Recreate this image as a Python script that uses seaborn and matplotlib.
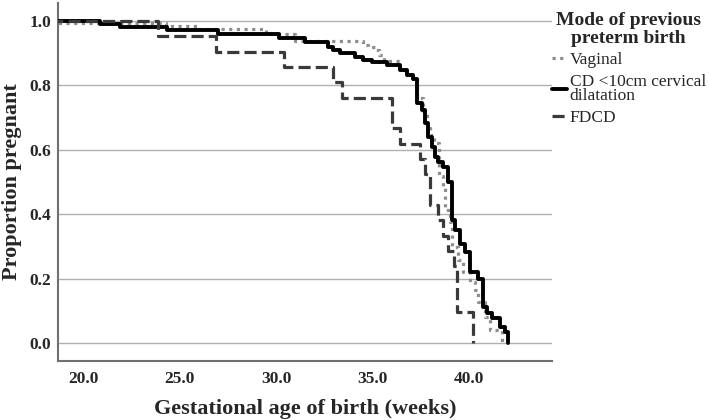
import matplotlib
matplotlib.use("Agg")
import matplotlib.pyplot as plt
import seaborn as sns
import pandas as pd

# ---- data (Kaplan-Meier step values) ----
vag_time = [0.0, 18.6, 24.3, 26.0, 29.5, 31.0, 34.5, 34.75, 35.2, 35.35, 35.6,
            36.4, 36.8, 37.1, 37.3, 37.6, 37.8, 38.0, 38.2, 38.45, 38.65, 38.76, 39.0,
            39.12, 39.43, 39.69, 40.05, 40.3, 40.47, 40.83, 41.1, 41.7]
vag_surv = [1.0, 0.994, 0.985, 0.975, 0.958, 0.937, 0.925, 0.920, 0.910, 0.894, 0.875,
            0.848, 0.832, 0.820, 0.760, 0.720, 0.680, 0.645, 0.620, 0.520, 0.484, 0.413, 0.376,
            0.298, 0.258, 0.220, 0.189, 0.165, 0.127, 0.081, 0.040, 0.0]

cd_time = [0.0, 20.88, 21.92, 24.35, 27.0, 30.16, 31.5, 32.7, 32.95, 33.3, 34.1,
           34.5, 34.97, 35.75, 36.4, 36.8, 37.1, 37.3, 37.56, 37.72, 37.88,
           38.08, 38.24, 38.39, 38.65, 38.9, 39.1, 39.27, 39.53, 39.8, 40.05,
           40.47, 40.73, 40.93, 41.19, 41.6, 41.87, 42.0]
cd_surv = [1.0, 0.991, 0.980, 0.972, 0.960, 0.946, 0.936, 0.920, 0.910, 0.900, 0.889,
           0.879, 0.874, 0.863, 0.848, 0.832, 0.820, 0.745, 0.724, 0.683, 0.640,
           0.609, 0.578, 0.562, 0.547, 0.500, 0.382, 0.351, 0.307, 0.283, 0.220,
           0.199, 0.112, 0.093, 0.078, 0.050, 0.034, 0.0]

fdcd_time = [0.0, 23.9, 26.9, 30.4, 32.95, 33.4, 36.0, 36.4, 37.45, 37.7, 38.0,
             38.4, 38.65, 38.9, 39.2, 39.4, 40.2]
fdcd_surv = [1.0, 0.952, 0.905, 0.857, 0.810, 0.762, 0.667, 0.619, 0.571, 0.524, 0.429,
             0.381, 0.333, 0.286, 0.238, 0.095, 0.0]

labels = ["Vaginal", "CD <10cm cervical\ndilatation", "FDCD"]
legend_title = "Mode of previous\npreterm birth"
x_ticks = [20.0, 25.0, 30.0, 35.0, 40.0]
y_ticks = [0.0, 0.2, 0.4, 0.6, 0.8, 1.0]

sns.set_theme(style="white")
plt.rcParams["font.family"] = ["Liberation Serif", "DejaVu Serif"]

fig = plt.figure(figsize=(7.09, 4.20), dpi=100)
ax = fig.add_axes([0.0818, 0.1405, 0.6968, 0.8525])

df_v = pd.DataFrame({"t": vag_time, "s": vag_surv})
df_c = pd.DataFrame({"t": cd_time, "s": cd_surv})
df_f = pd.DataFrame({"t": fdcd_time, "s": fdcd_surv})

sns.lineplot(data=df_v, x="t", y="s", ax=ax, estimator=None, drawstyle="steps-post",
             color="#8e8e8e", lw=2.3, linestyle=(0, (1, 1.4)), label=labels[0], zorder=3)
sns.lineplot(data=df_c, x="t", y="s", ax=ax, estimator=None, drawstyle="steps-post",
             color="black", lw=2.8, label=labels[1], zorder=4)
sns.lineplot(data=df_f, x="t", y="s", ax=ax, estimator=None, drawstyle="steps-post",
             color="#3a3a3a", lw=2.3, linestyle=(0, (3.8, 1.6)), label=labels[2], zorder=5)

ax.set_xlim(18.7, 44.3)
ax.set_ylim(-0.056, 1.056)
ax.set_xticks(x_ticks)
ax.set_xticklabels([f"{v:.1f}" for v in x_ticks])
ax.set_yticks(y_ticks)
ax.set_yticklabels([f"{v:.1f}" for v in y_ticks])
ax.tick_params(axis="x", length=0, labelsize=12.5, pad=7)
ax.tick_params(axis="y", length=0, labelsize=12.5, pad=5)
for lab in ax.get_xticklabels() + ax.get_yticklabels():
    lab.set_fontweight("bold")

ax.yaxis.grid(True, color="#b0b0b0", lw=1.0)
ax.xaxis.grid(False)
for sp in ["top", "right"]:
    ax.spines[sp].set_visible(False)
for sp in ["left", "bottom"]:
    ax.spines[sp].set_color("#707070")
    ax.spines[sp].set_linewidth(1.5)

ax.set_xlabel("Gestational age of birth (weeks)", fontsize=16, fontweight="bold", labelpad=9)
ax.set_ylabel("Proportion pregnant", fontsize=16, fontweight="bold", labelpad=5)

leg = ax.legend(loc="upper left", bbox_to_anchor=(0.985, 0.995), frameon=False,
                title=legend_title, fontsize=12.5, handlelength=0.9, handletextpad=0.15,
                labelspacing=0.3, borderaxespad=0.0)
leg.get_title().set_fontweight("bold")
leg.get_title().set_fontsize(14)
leg.get_title().set_multialignment("center")
leg.get_title().set_linespacing(1.1)
for t in leg.get_texts():
    t.set_linespacing(0.9)

fig.savefig("out.png", dpi=100)
